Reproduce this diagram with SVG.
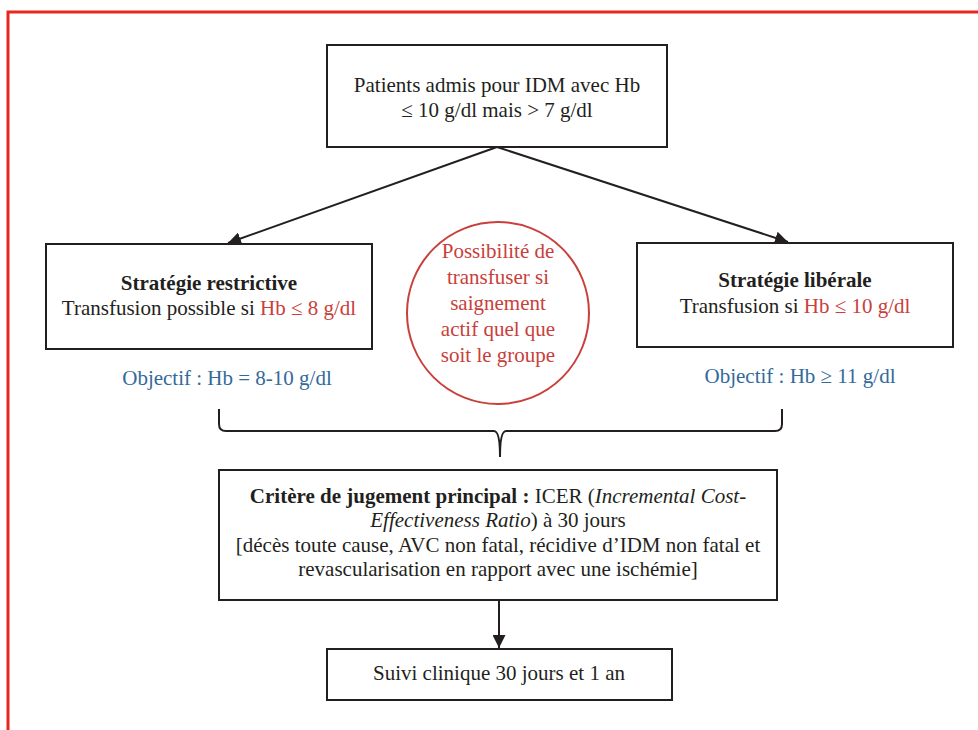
<svg xmlns="http://www.w3.org/2000/svg" width="978" height="730" viewBox="0 0 978 730">
<style>
text{font-family:"Liberation Serif","Times New Roman",serif;font-size:21px;fill:#231f20;text-anchor:middle}
.box{fill:#fff;stroke:#231f20;stroke-width:2}
.red{fill:#c9403b}
.blue{fill:#336a99}
.b{font-weight:bold}
.i{font-style:italic}
.conn{fill:none;stroke:#231f20;stroke-width:2}
</style>
<defs>
<marker id="ah" viewBox="0 0 10 10" refX="10" refY="5" markerWidth="7" markerHeight="7" markerUnits="userSpaceOnUse" orient="auto">
<path d="M0,0 L10,5 L0,10 z" fill="#231f20"/>
</marker>
<marker id="ah2" viewBox="0 0 10 10" refX="10" refY="5" markerWidth="13" markerHeight="13" markerUnits="userSpaceOnUse" orient="auto">
<path d="M0,0 L10,5 L0,10 z" fill="#231f20"/>
</marker>
</defs>
<rect x="8" y="12" width="1000" height="800" fill="none" stroke="#e8281e" stroke-width="3"/>
<g id="connectors">
<line class="conn" x1="497" y1="147" x2="228" y2="243" marker-end="url(#ah2)"/>
<line class="conn" x1="497" y1="147" x2="788" y2="242" marker-end="url(#ah2)"/>
<path class="conn" d="M219,409 L219,424 Q219,431 226,431 L494,431 Q500,431 500,457 Q500,431 506,431 L775,431 Q782,431 782,424 L782,409"/>
<line class="conn" x1="499" y1="600" x2="499" y2="648" marker-end="url(#ah2)"/>
</g>
<g id="top">
<rect class="box" x="327" y="45" width="340" height="102"/>
<text x="497" y="92">Patients admis pour IDM avec Hb</text>
<text x="497" y="117">≤ 10 g/dl mais &gt; 7 g/dl</text>
</g>
<g id="restrictive">
<rect class="box" x="46" y="244" width="326" height="105"/>
<text x="209" y="290" class="b">Stratégie restrictive</text>
<text x="209" y="315">Transfusion possible si <tspan class="red">Hb ≤ 8 g/dl</tspan></text>
<text x="227" y="385" class="blue">Objectif : Hb = 8-10 g/dl</text>
</g>
<g id="liberale">
<rect class="box" x="637" y="243" width="316" height="104"/>
<text x="795" y="287" class="b">Stratégie libérale</text>
<text x="795" y="313">Transfusion si <tspan class="red">Hb ≤ 10 g/dl</tspan></text>
<text x="800" y="383" class="blue">Objectif : Hb ≥ 11 g/dl</text>
</g>
<g id="circle">
<circle cx="498" cy="313" r="91" fill="#fff" stroke="#c9403b" stroke-width="2"/>
<text x="498" y="258" class="red">Possibilité de</text>
<text x="498" y="284" class="red">transfuser si</text>
<text x="498" y="310" class="red">saignement</text>
<text x="498" y="336" class="red">actif quel que</text>
<text x="498" y="362" class="red">soit le groupe</text>
</g>
<g id="critere">
<rect class="box" x="219" y="470" width="558" height="130"/>
<text x="498" y="503"><tspan class="b">Critère de jugement principal :</tspan> ICER (<tspan class="i">Incremental Cost-</tspan></text>
<text x="498" y="527"><tspan class="i">Effectiveness Ratio</tspan>) à 30 jours</text>
<text x="498" y="552">[décès toute cause, AVC non fatal, récidive d’IDM non fatal et</text>
<text x="498" y="576">revascularisation en rapport avec une ischémie]</text>
</g>
<g id="suivi">
<rect class="box" x="327" y="649" width="345" height="51"/>
<text x="499" y="680">Suivi clinique 30 jours et 1 an</text>
</g>
</svg>
